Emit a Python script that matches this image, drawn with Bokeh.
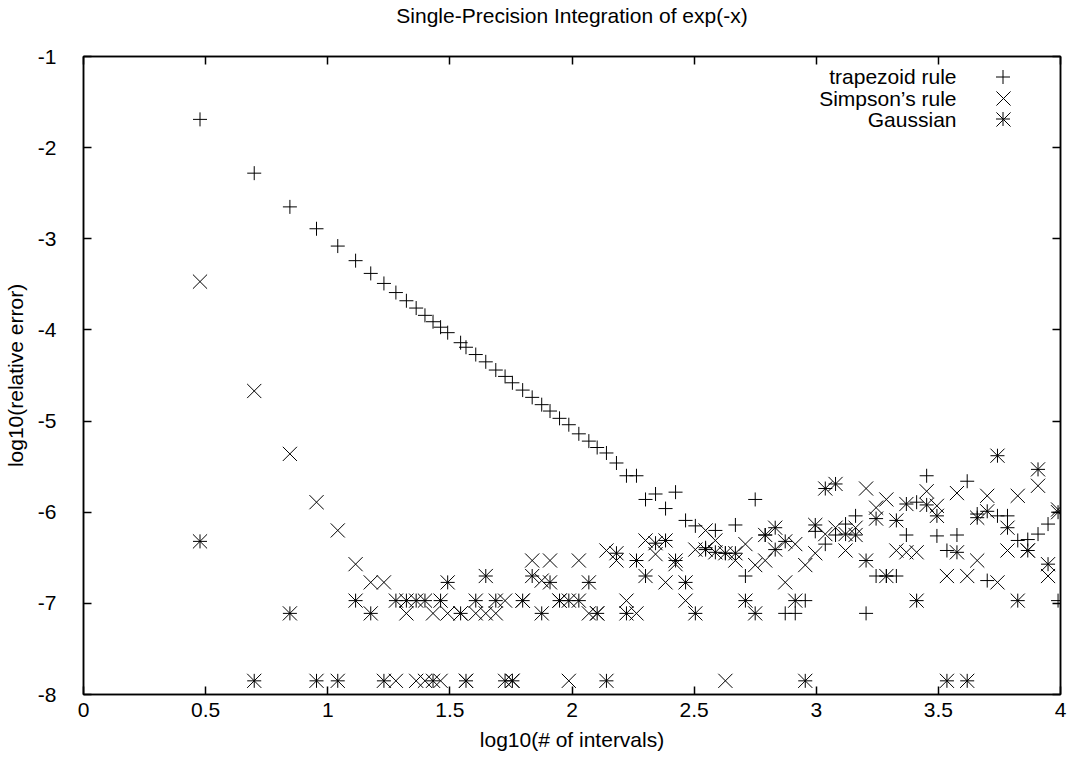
from bokeh.plotting import figure
from bokeh.models import (Range1d, FixedTicker, LinearAxis, Legend, LegendItem,
                          Label, ColumnDataSource)
from bokeh.core.properties import value
from bokeh.embed import file_html
from bokeh.resources import INLINE

# ---------------- data ----------------
title_text = "Single-Precision Integration of exp(-x)"
x_label = "log10(# of intervals)"
y_label = "log10(relative error)"
series_names = ["trapezoid rule", "Simpson\u2019s rule", "Gaussian"]

x_ticks = [0, 0.5, 1, 1.5, 2, 2.5, 3, 3.5, 4]
x_tick_labels = ["0", "0.5", "1", "1.5", "2", "2.5", "3", "3.5", "4"]
y_ticks = [-8, -7, -6, -5, -4, -3, -2, -1]
y_tick_labels = ["-8", "-7", "-6", "-5", "-4", "-3", "-2", "-1"]

log_n = [0.477, 0.699, 0.845, 0.954, 1.041, 1.114, 1.176, 1.230, 1.279, 1.322,
         1.362, 1.398, 1.431, 1.462, 1.491, 1.544, 1.566, 1.606, 1.647, 1.688,
         1.726, 1.756, 1.798, 1.837, 1.876, 1.910, 1.949, 1.987, 2.028, 2.069,
         2.103, 2.141, 2.182, 2.223, 2.264, 2.301, 2.342, 2.383, 2.424, 2.465,
         2.505, 2.547, 2.587, 2.628, 2.669, 2.710, 2.750, 2.791, 2.832, 2.873,
         2.914, 2.955, 2.996, 3.037, 3.079, 3.120, 3.161, 3.204, 3.245, 3.287,
         3.328, 3.369, 3.411, 3.452, 3.494, 3.535, 3.576, 3.618, 3.659, 3.700,
         3.742, 3.783, 3.825, 3.866, 3.908, 3.949, 3.990]

trapezoid = [-1.69, -2.28, -2.65, -2.89, -3.08, -3.24, -3.38, -3.49, -3.59, -3.68,
             -3.76, -3.84, -3.91, -3.97, -4.03, -4.14, -4.19, -4.27, -4.35, -4.44,
             -4.51, -4.58, -4.66, -4.74, -4.82, -4.89, -4.97, -5.04, -5.14, -5.22,
             -5.29, -5.35, -5.46, -5.60, -5.60, -5.86, -5.80, -5.96, -5.78, -6.09,
             -6.15, -6.39, -6.20, -6.45, -6.14, -6.70, -5.86, -6.25, -6.17, -7.11,
             -7.11, -6.97, -6.21, -6.35, -6.25, -6.13, -6.04, -7.11, -6.70, -6.70,
             -6.70, -6.25, -5.89, -5.60, -6.26, -6.42, -6.25, -5.66, -6.02, -6.75,
             -6.04, -6.04, -6.31, -6.30, -6.24, -6.13, -6.97]

simpson = [-3.47, -4.67, -5.36, -5.89, -6.20, -6.57, -6.77, -6.77, -7.85, -7.11,
           -7.85, -7.85, -7.11, -7.85, -7.11, -7.11, -7.85, -7.11, -7.11, -7.11,
           -6.97, -7.85, -6.97, -6.53, -6.75, -6.53, -6.97, -7.85, -6.53, -7.11,
           -7.11, -6.42, -6.53, -6.97, -7.11, -6.31, -6.46, -6.77, -6.57, -6.97,
           -6.41, -6.20, -6.31, -7.85, -6.53, -6.35, -6.58, -6.53, -6.17, -6.77,
           -6.35, -6.58, -6.45, -6.24, -6.17, -6.42, -6.17, -5.74, -5.95, -5.86,
           -6.42, -6.44, -6.44, -5.77, -5.93, -6.70, -5.79, -6.70, -6.53, -5.82,
           -6.77, -6.42, -5.82, -6.42, -5.71, -6.70, -5.97]

gaussian = [-6.32, -7.85, -7.11, -7.85, -7.85, -6.97, -7.11, -7.85, -6.97, -6.97,
            -6.97, -6.97, -7.85, -6.97, -6.77, -7.11, -7.85, -6.97, -6.70, -6.97,
            -7.85, -7.85, -6.97, -6.70, -7.11, -6.77, -6.97, -6.97, -6.97, -6.77,
            -7.11, -7.85, -6.45, -7.11, -6.53, -6.70, -6.34, -6.31, -6.53, -6.77,
            -7.11, -6.41, -6.44, -6.45, -6.45, -6.97, -7.11, -6.25, -6.41, -6.32,
            -6.97, -7.85, -6.14, -5.74, -5.69, -6.24, -6.25, -6.53, -6.07, -6.70,
            -6.09, -5.91, -6.97, -5.92, -6.04, -7.85, -6.44, -7.85, -6.06, -5.99,
            -5.38, -6.17, -6.97, -6.42, -5.53, -6.57, -6.00]

# ---------------- style / layout ----------------
FONT = "Liberation Sans"
FS = "21px"
W, H = 1067, 759
BORDER_L, BORDER_R, BORDER_T, BORDER_B = 82, 7, 55, 65
FRAME_W = W - BORDER_L - BORDER_R
FRAME_H = H - BORDER_T - BORDER_B
CROSS_SIZE = 14      # '+' marker
X_SIZE = 20          # 'x' marker (bokeh draws it at ~0.7 of its size)

p = figure(width=W, height=H, x_range=Range1d(x_ticks[0], x_ticks[-1]),
           y_range=Range1d(y_ticks[0], y_ticks[-1]),
           output_backend="svg", toolbar_location=None,
           min_border_left=BORDER_L, min_border_right=BORDER_R,
           min_border_top=BORDER_T, min_border_bottom=BORDER_B)
p.background_fill_color = "white"
p.border_fill_color = "white"
p.grid.visible = False
p.outline_line_color = "black"
p.outline_line_width = 1.5

xt = FixedTicker(ticks=x_ticks)
yt = FixedTicker(ticks=y_ticks)

xa = p.xaxis[0]
xa.ticker = xt
xa.major_label_overrides = dict(zip(x_ticks, x_tick_labels))
xa.axis_label = x_label
ya = p.yaxis[0]
ya.ticker = yt
ya.major_label_overrides = dict(zip(y_ticks, y_tick_labels))
ya.axis_label = y_label


def style_text(ax):
    ax.major_tick_in = 8
    ax.major_tick_out = 0
    ax.minor_tick_in = 0
    ax.minor_tick_out = 0
    ax.axis_line_width = 1.5
    ax.major_tick_line_width = 1.5
    ax.axis_line_color = "black"
    ax.major_tick_line_color = "black"
    ax.axis_label_text_font = FONT
    ax.axis_label_text_font_size = FS
    ax.axis_label_text_font_style = "normal"
    ax.axis_label_text_color = "black"


for ax in (xa, ya):
    style_text(ax)
    ax.major_label_text_font = FONT
    ax.major_label_text_font_size = FS
    ax.major_label_text_color = "black"
xa.major_label_standoff = 8
xa.axis_label_standoff = 8
ya.major_label_standoff = 27
ya.axis_label_standoff = 8
ya.major_label_orientation = "horizontal"

# mirrored inward ticks on the top and right (gnuplot border style), no tick labels;
# the top one carries the chart title above the frame
top_ax = LinearAxis(ticker=xt, axis_label=title_text, axis_label_standoff=30)
right_ax = LinearAxis(ticker=yt)
for ax in (top_ax, right_ax):
    style_text(ax)
    ax.major_label_text_font_size = "1px"
    ax.major_label_text_color = None
    ax.major_label_standoff = 0
p.add_layout(top_ax, "above")
p.add_layout(right_ax, "right")

src = ColumnDataSource(dict(x=log_n, trap=trapezoid, simp=simpson, gauss=gaussian))
r_t = p.scatter("x", "trap", source=src, marker="cross", size=CROSS_SIZE,
                line_color="black", line_width=1)
r_s = p.scatter("x", "simp", source=src, marker="x", size=X_SIZE,
                line_color="black", line_width=1)
r_g1 = p.scatter("x", "gauss", source=src, marker="cross", size=CROSS_SIZE,
                 line_color="black", line_width=1)
r_g2 = p.scatter("x", "gauss", source=src, marker="x", size=X_SIZE,
                 line_color="black", line_width=1)

# legend: gnuplot style, text right-aligned on the left, symbol on the right
KEY_CX = FRAME_W - 58          # symbol centre, px from frame left
KEY_TEXT_X = FRAME_W - 105     # right edge of the key texts
KEY_ROWS = [FRAME_H - 21, FRAME_H - 43, FRAME_H - 63.5]   # row centres from frame bottom


def key(renderer, row, size):
    # bokeh draws a legend marker at 0.4 x the glyph box
    box = int(round(size / 0.4))
    return Legend(items=[LegendItem(label=value(" "), renderers=[renderer])],
                  location=(int(round(KEY_CX - box / 2)),
                            int(round(KEY_ROWS[row] - box / 2))),
                  padding=0, margin=0, spacing=0,
                  glyph_width=box, glyph_height=box,
                  label_width=0, label_height=0, label_standoff=0,
                  label_text_font_size="1px", label_text_color=None,
                  border_line_color=None, background_fill_alpha=0)


for rend, row, size in ((r_t, 0, CROSS_SIZE), (r_s, 1, X_SIZE),
                        (r_g1, 2, CROSS_SIZE), (r_g2, 2, X_SIZE)):
    p.add_layout(key(rend, row, size))

for i, name in enumerate(series_names):
    p.add_layout(Label(x=KEY_TEXT_X, y=KEY_ROWS[i],
                       x_units="screen", y_units="screen", text=name,
                       text_align="right", text_baseline="middle",
                       text_font=FONT, text_font_size=FS, text_color="black"))

open("out.html", "w").write(file_html(p, INLINE))
